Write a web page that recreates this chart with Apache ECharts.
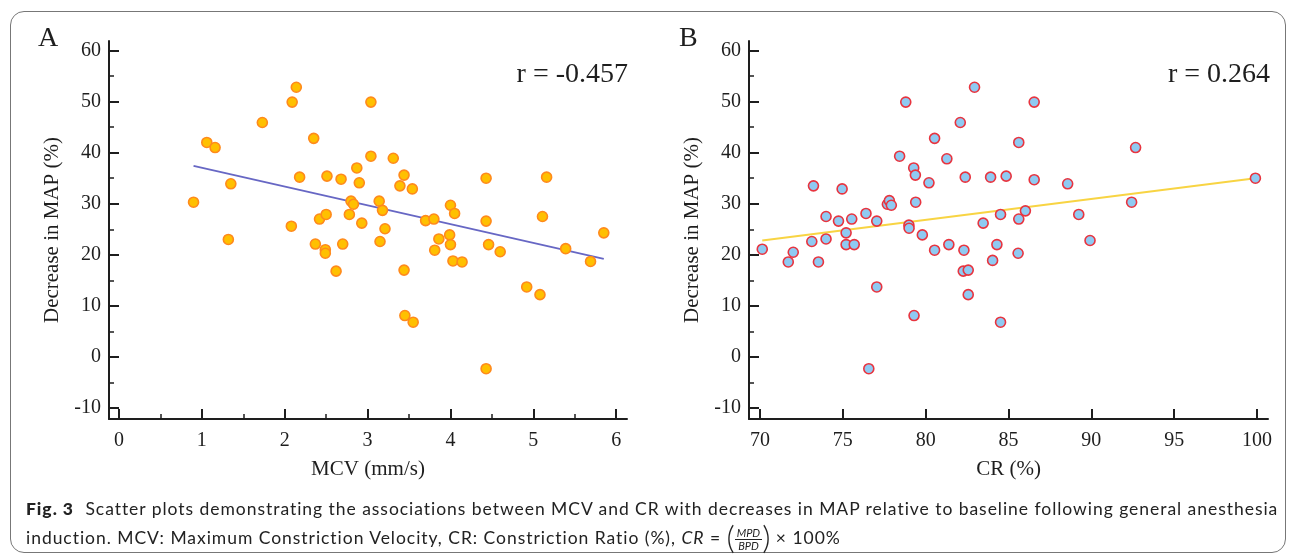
<!DOCTYPE html>
<html>
<head>
<meta charset="utf-8">
<script src="https://cdn.jsdelivr.net/npm/echarts@6/dist/echarts.min.js"></script>
<style>
  body { margin: 0; background: #fff; }
  #wrap { position: relative; width: 1293px; height: 555px; overflow: hidden; }
  #frame { position: absolute; left: 10px; top: 11px; width: 1276px; height: 542px; border: 1px solid #777; border-radius: 14px; box-sizing: border-box; }
  #chart { position: absolute; left: 0; top: 0; width: 1293px; height: 555px; }
  #caption { position: absolute; left: 26px; top: 495px; font-family: Lato, sans-serif; font-size: 17.5px; line-height: 28px; color: #222; white-space: nowrap; }
  #caption b { font-weight: 900; margin-right: 6px; }
  .paren { font-size: 32px; font-weight: 300; vertical-align: -5px; letter-spacing: 0; }
  .frac { display: inline-block; vertical-align: middle; text-align: center; font-size: 11px; font-style: italic; line-height: 12px; letter-spacing: 0; }
  .frac span { display: block; padding: 0 2px; }
  .frac .num { border-bottom: 1px solid #222; }
</style>
</head>
<body>
<div id="wrap">
  <div id="frame"></div>
  <div id="chart"></div>
  <div id="caption">
    <div><span id="line1"><b>Fig. 3</b> Scatter plots demonstrating the associations between MCV and CR with decreases in MAP relative to baseline following general anesthesia</span></div>
    <div>induction. MCV: Maximum Constriction Velocity, CR: Constriction Ratio (%), <i>CR</i> = <span class="paren">(</span><span class="frac"><span class="num">MPD</span><span>BPD</span></span><span class="paren">)</span> × 100%</div>
  </div>
</div>
<script>
(function () {
  'use strict'

  /*-----data-----*/
  var mcvValues = [0.90, 1.06, 1.16, 1.35, 1.32, 1.73, 2.09, 2.14, 2.35, 2.18, 2.08, 2.42, 2.50, 2.51, 2.37, 2.49,
    2.49, 2.62, 2.68, 2.70, 2.78, 2.80, 2.83, 2.87, 2.90, 2.93, 3.04, 3.04, 3.14, 3.18, 3.15, 3.21, 3.31, 3.39,
    3.44, 3.54, 3.44, 3.45, 3.55, 3.70, 3.80, 3.86, 3.81, 3.99, 4.00, 4.05, 4.00, 4.03, 4.14, 4.43, 4.43, 4.46,
    4.43, 4.60, 4.92, 5.08, 5.11, 5.16, 5.39, 5.69, 5.85];
  var mapDropA = [30.3, 42.0, 41.0, 33.9, 23.0, 45.9, 49.9, 52.8, 42.8, 35.2, 25.6, 27.0, 27.9, 35.4, 22.1, 21.0,
    20.3, 16.8, 34.8, 22.1, 27.9, 30.5, 29.9, 37.0, 34.1, 26.2, 49.9, 39.3, 30.5, 28.7, 22.6, 25.1, 38.9, 33.5,
    35.6, 32.9, 17.0, 8.1, 6.8, 26.7, 27.0, 23.1, 20.9, 23.9, 29.7, 28.1, 22.0, 18.8, 18.6, 35.0, 26.6, 22.0,
    -2.3, 20.6, 13.7, 12.2, 27.5, 35.2, 21.2, 18.7, 24.3];

  var crValues = [70.14, 71.71, 72.01, 73.13, 73.23, 73.53, 73.99, 73.99, 74.74, 74.96, 75.20, 75.20, 75.54, 75.69,
    76.40, 76.57, 77.05, 77.05, 77.69, 77.81, 77.93, 78.43, 78.80, 78.99, 79.00, 79.28, 79.38, 79.40, 79.30, 79.80,
    80.20, 80.54, 80.54, 81.28, 81.40, 82.09, 82.39, 82.31, 82.27, 82.57, 82.57, 82.95, 83.47, 83.92, 84.04, 84.30,
    84.52, 84.52, 84.86, 85.62, 85.62, 85.58, 86.02, 86.55, 86.55, 88.57, 89.24, 89.92, 92.43, 92.67, 99.90];
  var mapDropB = [21.1, 18.6, 20.5, 22.6, 33.5, 18.6, 23.1, 27.5, 26.6, 32.9, 24.3, 22.0, 27.0, 22.0,
    28.1, -2.3, 26.6, 13.7, 29.9, 30.6, 29.7, 39.3, 49.9, 25.8, 25.2, 37.0, 35.6, 30.3, 8.1, 23.9,
    34.1, 42.8, 20.9, 38.8, 22.0, 45.9, 35.2, 20.9, 16.8, 17.0, 12.2, 52.8, 26.2, 35.2, 18.9, 22.0,
    27.9, 6.8, 35.4, 42.0, 27.0, 20.3, 28.6, 49.9, 34.7, 33.9, 27.9, 22.8, 30.3, 41.0, 35.0];

  var trendA = [[0.90, 37.4], [5.85, 19.2]];
  var trendB = [[70.14, 22.8], [99.90, 35.0]];

  var yTicks = [-10, 0, 10, 20, 30, 40, 50, 60];
  var yMinor = [-5, 5, 15, 25, 35, 45, 55];
  var xTicksA = [0, 1, 2, 3, 4, 5, 6];
  var xMinorA = [0.5, 1.5, 2.5, 3.5, 4.5, 5.5];
  var xTicksB = [70, 75, 80, 85, 90, 95, 100];

  function zip(xs, ys) {
    return xs.map(function (x, i) { return [x, ys[i]]; });
  }

  var serif = 'Liberation Serif, Times New Roman, serif';
  var ink = '#1e1e1e';

  function mainAxis(grid, min, max, ticks, name, gap, isY) {
    return {
      gridIndex: grid,
      type: 'value',
      position: isY ? 'left' : 'bottom',
      min: min,
      max: max,
      name: name,
      nameLocation: 'middle',
      nameGap: gap,
      nameTextStyle: { fontFamily: serif, fontSize: 21, color: ink },
      axisLine: { show: true, onZero: false, lineStyle: { color: ink, width: 2 } },
      axisTick: { show: true, inside: true, length: 10, customValues: ticks, lineStyle: { color: ink, width: 2 } },
      axisLabel: { customValues: ticks, fontFamily: serif, fontSize: 20, color: ink, margin: isY ? 8 : 12 },
      splitLine: { show: false }
    };
  }

  function minorAxis(grid, min, max, ticks, isY) {
    return {
      gridIndex: grid,
      type: 'value',
      position: isY ? 'left' : 'bottom',
      min: min,
      max: max,
      axisLine: { show: false, onZero: false },
      axisTick: { show: true, inside: true, length: 5, customValues: ticks, lineStyle: { color: ink, width: 1.5 } },
      axisLabel: { show: false },
      splitLine: { show: false }
    };
  }

  var yMin = -12.15, yMax = 61.86;

  var option = {
    animation: false,
    grid: [
      { left: 109, top: 41, width: 518, height: 378 },
      { left: 749, top: 41, width: 519, height: 378 }
    ],
    xAxis: [
      mainAxis(0, -0.12, 6.13, xTicksA, 'MCV (mm/s)', 40, false),
      minorAxis(0, -0.12, 6.13, xMinorA, false),
      mainAxis(1, 69.34, 100.66, xTicksB, 'CR (%)', 40, false)
    ],
    yAxis: [
      mainAxis(0, yMin, yMax, yTicks, 'Decrease in MAP (%)', 46, true),
      minorAxis(0, yMin, yMax, yMinor, true),
      mainAxis(1, yMin, yMax, yTicks, 'Decrease in MAP (%)', 46, true),
      minorAxis(1, yMin, yMax, yMinor, true)
    ],
    series: [
      {
        type: 'line',
        xAxisIndex: 0, yAxisIndex: 0,
        data: trendA,
        symbol: 'none',
        lineStyle: { color: '#6767c4', width: 1.8 },
        z: 1
      },
      {
        type: 'scatter',
        xAxisIndex: 0, yAxisIndex: 0,
        data: zip(mcvValues, mapDropA),
        symbolSize: 10,
        itemStyle: { color: '#ffc000', borderColor: '#ff8a1c', borderWidth: 1.6, opacity: 1 },
        z: 2
      },
      {
        type: 'line',
        xAxisIndex: 2, yAxisIndex: 2,
        data: trendB,
        symbol: 'none',
        lineStyle: { color: '#f8d443', width: 2 },
        z: 1
      },
      {
        type: 'scatter',
        xAxisIndex: 2, yAxisIndex: 2,
        data: zip(crValues, mapDropB),
        symbolSize: 10,
        itemStyle: { color: '#8fcaf2', borderColor: '#e8343f', borderWidth: 1.6, opacity: 1 },
        z: 2
      }
    ],
    graphic: [
      { type: 'text', left: 38, top: 25, style: { text: 'A', font: '28px ' + serif, fill: ink } },
      { type: 'text', left: 679, top: 25, style: { text: 'B', font: '28px ' + serif, fill: ink } },
      { type: 'text', right: 1293 - 628, top: 61, style: { text: 'r = -0.457', font: '28px ' + serif, fill: ink } },
      { type: 'text', right: 1293 - 1270, top: 61, style: { text: 'r = 0.264', font: '28px ' + serif, fill: ink } }
    ]
  };

  var chart = echarts.init(document.getElementById('chart'));
  chart.setOption(option);

  // stretch caption spacing so the first line spans the same width as the figure's caption
  var cap = document.getElementById('caption');
  var line1 = document.getElementById('line1');
  var target = 1252;
  var chars = line1.textContent.length;
  var spacing = (target - line1.getBoundingClientRect().width) / chars;
  cap.style.letterSpacing = spacing.toFixed(2) + 'px';
})();
</script>
</body>
</html>
